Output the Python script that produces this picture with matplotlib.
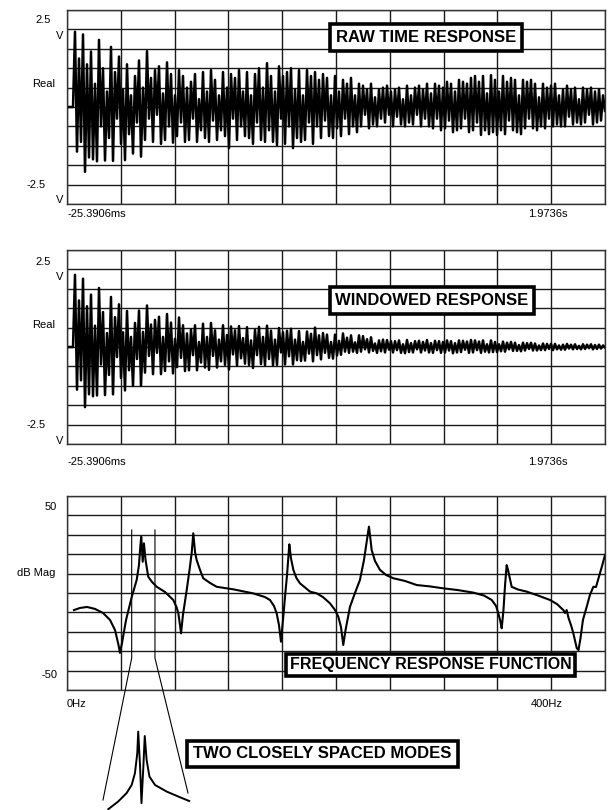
import numpy as np
import matplotlib
matplotlib.use("Agg")
import matplotlib.pyplot as plt
from matplotlib.lines import Line2D

plt.rcParams['font.family'] = ['Liberation Sans', 'DejaVu Sans']

W, H = 609, 810

t_start, t_end = -0.0253906, 1.9736

# raw time response, volts
raw_v = [0, 0, 0, 0,
         1.94, -1.15, 1.25, -0.9, 1.87, -1.67, 1.1, -1.3, 1.43, -1.35,
         0.6, -1.4, 1.73, -0.5, 1.0, -1.38, 0.4, -0.8, 1.55, -1.39,
         0.9, -0.3, 1.3, -0.95, 0.45, -1.37, 1.1, -0.7, 0.3, -1.2,
         0.8, -0.4, 1.2, -1.28, 0.5, -0.85, 1.44, -0.3, 0.75, -0.9,
         0.95, -0.2, 1.05, -0.95, 0.35, -0.85, 1.15, -0.5, 0.85, -0.92,
         0.3, -0.75, 0.95, -0.4, 0.8, -0.9, 0.5, -0.85, 0.65, -0.3,
         0.85, -0.9, 0.2, -0.6, 0.9, -0.8, 0.4, -0.9, 0.95, -0.35,
         0.7, -0.85, 0.3, -0.6, 0.9, -0.75, 0.5, -1.06, 0.85, -0.3,
         0.75, -0.85, 0.95, -0.5, 0.4, -0.75, 0.9, -0.8, 0.3, -0.95,
         0.85, -0.4, 1.0, -0.85, 0.5, -0.9, 1.13, -0.6, 0.8, -0.9,
         0.4, -0.98, 1.05, -0.3, 0.8, -0.95, 0.9, -0.5, 1.0, -1.06,
         0.45, -0.8, 0.95, -0.9, 0.3, -0.85, 0.95, -0.4, 0.8, -0.95,
         0.9, -0.5, 0.7, -0.8, 0.85, -0.35, 0.75, -0.75, 0.3, -0.8,
         0.8, -0.55, 0.4, -0.75, 0.7, -0.3, 0.6, -0.7, 0.75, -0.5,
         0.3, -0.65, 0.6, -0.5, 0.55, -0.2, 0.45, -0.55, 0.6, -0.45,
         0.25, -0.5, 0.45, -0.3, 0.5, -0.4, 0.55, -0.2, 0.4, -0.5,
         0.45, -0.25, 0.5, -0.45, 0.2, -0.5, 0.55, -0.4, 0.3, -0.45,
         0.5, -0.2, 0.55, -0.5, 0.45, -0.3, 0.6, -0.5, 0.35, -0.55,
         0.6, -0.3, 0.55, -0.6, 0.5, -0.55, 0.65, -0.35, 0.6, -0.65,
         0.4, -0.6, 0.7, -0.55, 0.65, -0.3, 0.6, -0.65, 0.75, -0.6,
         0.8, -0.4, 0.65, -0.72, 0.8, -0.6, 0.35, -0.7, 0.82, -0.65,
         0.7, -0.72, 0.4, -0.6, 0.8, -0.7, 0.65, -0.35, 0.75, -0.6,
         0.7, -0.65, 0.3, -0.7, 0.7, -0.55, 0.65, -0.3, 0.7, -0.55,
         0.6, -0.6, 0.25, -0.5, 0.6, -0.55, 0.5, -0.3, 0.55, -0.5,
         0.6, -0.45, 0.3, -0.5, 0.45, -0.5, 0.55, -0.25, 0.45, -0.45,
         0.5, -0.4, 0.2, -0.45, 0.5, -0.4, 0.45, -0.2, 0.5, -0.45,
         0.4, -0.4, 0.45, -0.35, 0.3, -0.1]

# windowed response, volts
win_v = [0, 0, 0, 0,
         1.86, -1.1, 1.2, -0.86, 1.76, -1.55, 1.05, -1.22, 1.35, -1.27,
         0.55, -1.25, 1.52, -0.45, 0.9, -1.24, 0.36, -0.72, 1.29, -1.22,
         0.77, -0.26, 1.1, -0.8, 0.38, -1.12, 0.93, -0.6, 0.26, -1.0,
         0.62, -0.31, 0.94, -1.0, 0.39, -0.66, 1.07, -0.23, 0.58, -0.7,
         0.7, -0.15, 0.78, -0.7, 0.26, -0.62, 0.85, -0.37, 0.63, -0.68,
         0.21, -0.52, 0.76, -0.28, 0.56, -0.62, 0.35, -0.6, 0.45, -0.21,
         0.56, -0.6, 0.13, -0.4, 0.6, -0.53, 0.26, -0.59, 0.62, -0.23,
         0.43, -0.53, 0.19, -0.37, 0.56, -0.46, 0.31, -0.58, 0.53, -0.19,
         0.43, -0.48, 0.54, -0.29, 0.23, -0.43, 0.51, -0.46, 0.17, -0.54,
         0.44, -0.21, 0.52, -0.44, 0.26, -0.47, 0.55, -0.31, 0.42, -0.47,
         0.19, -0.46, 0.49, -0.14, 0.38, -0.45, 0.42, -0.24, 0.47, -0.45,
         0.19, -0.34, 0.41, -0.36, 0.13, -0.35, 0.4, -0.17, 0.34, -0.37,
         0.5, -0.21, 0.3, -0.32, 0.36, -0.15, 0.32, -0.28, 0.13, -0.3,
         0.32, -0.22, 0.16, -0.2, 0.35, -0.12, 0.24, -0.15, 0.3, -0.12,
         0.12, -0.15, 0.3, -0.12, 0.28, -0.06, 0.2, -0.14, 0.25, -0.1,
         0.09, -0.15, 0.17, -0.11, 0.19, -0.14, 0.18, -0.07, 0.15, -0.14,
         0.15, -0.08, 0.17, -0.15, 0.07, -0.16, 0.18, -0.13, 0.1, -0.14,
         0.15, -0.06, 0.16, -0.14, 0.13, -0.09, 0.18, -0.14, 0.1, -0.15,
         0.16, -0.08, 0.15, -0.15, 0.13, -0.14, 0.17, -0.09, 0.15, -0.16,
         0.1, -0.14, 0.17, -0.13, 0.16, -0.07, 0.14, -0.15, 0.18, -0.14,
         0.17, -0.08, 0.14, -0.15, 0.17, -0.12, 0.07, -0.14, 0.17, -0.13,
         0.13, -0.13, 0.07, -0.11, 0.14, -0.12, 0.11, -0.06, 0.13, -0.1,
         0.11, -0.1, 0.05, -0.11, 0.11, -0.09, 0.1, -0.05, 0.11, -0.09,
         0.09, -0.09, 0.04, -0.08, 0.09, -0.08, 0.08, -0.05, 0.08, -0.08,
         0.08, -0.06, 0.04, -0.07, 0.06, -0.07, 0.08, -0.04, 0.06, -0.06,
         0.07, -0.05, 0.03, -0.06, 0.07, -0.05, 0.06, -0.03, 0.07, -0.06,
         0.05, -0.05, 0.06, -0.04, 0.04, -0.01]

# frequency response function
frf_hz = [5.2, 9.7, 14.9, 20.8, 26.8, 32.0, 35.7, 38.3, 39.4, 40.9, 43.9, 48.1,
          51.8, 53.5, 54.6, 55.2, 56.3, 57.2, 58.4, 60.4, 63.2, 66.7, 72.9, 79.0,
          81.4, 82.8, 84.0, 84.8, 86.2, 89.0, 91.1, 92.7, 93.9, 95.2, 96.4, 98.9,
          101.3, 106.3, 111.3, 123.6, 138.5, 147.2, 150.9, 153.9, 155.9, 157.6,
          159.1, 160.6, 162.1, 163.6, 164.7, 165.3, 166.5, 168.3, 170.6, 173.2,
          180.7, 185.7, 190.3, 195.5, 199.3, 201.7, 203.7, 205.4, 207.1, 210.4,
          214.1, 217.8, 220.8, 223.0, 224.5, 225.7, 226.5, 229.0, 232.7, 237.2,
          242.6, 251.3, 260.0, 269.9, 279.8, 290.7, 302.1, 310.0, 315.8, 319.0,
          320.7, 322.3, 323.2, 324.5, 325.7, 326.9, 327.9, 330.6, 335.3, 341.8,
          350.2, 359.1, 364.3, 369.0, 370.3, 371.5, 372.9, 374.7, 376.4, 379.0,
          380.3, 381.8, 383.6, 386.4, 388.8, 391.3, 393.3, 394.8, 397.8, 400.0]
frf_db = [-8.8, -7.7, -7.2, -8.2, -10.3, -13.9, -19.1, -26.8, -30.9, -25.8, -13.9, -2.1,
          6.7, 14.4, 24.7, 29.0, 16.1, 25.6, 17.0, 8.4, 5.7, 3.2, 0.5, -3.6,
          -7.2, -10.5, -16.5, -20.8, -11.3, 1.5, 11.9, 20.6, 30.8, 21.1, 17.0, 11.9,
          7.6, 5.2, 3.2, 1.9, -0.2, -2.1, -3.6, -6.7, -10.5, -16.5,
          -25.1, -13.9, -1.9, 9.3, 19.6, 25.1, 18.0, 11.9, 7.7, 5.0,
          0.7, -0.2, -2.1, -5.3, -8.8, -12.2, -17.5, -26.8, -19.1, -7.1,
          0.0, 6.7, 17.0, 27.3, 34.2, 27.3, 22.2, 16.5, 11.9, 9.3,
          7.6, 6.2, 4.1, 3.4, 2.4, 1.5, 0.2, -1.3, -3.6, -6.7,
          -10.5, -14.9, -18.2, -8.8, 4.1, 14.4, 11.9, 3.2, 1.8, 0.7,
          -1.3, -3.6, -5.7, -8.8, -10.3, -8.8, -12.9, -16.5, -20.6, -28.4,
          -29.4, -23.2, -13.9, -7.1, -1.0, 3.2, 3.1, 6.7, 13.9, 19.6]

# zoomed view of the two close modes (48-65 Hz)
zoom_hz = [48.1, 50.2, 52.0, 53.1, 53.8, 54.3, 54.5, 54.9, 55.2, 55.6, 55.9,
           56.3, 56.9, 58.1, 60.6, 63.4, 65.4]
zoom_db = [0.4, 4.2, 8.4, 12.5, 18.4, 28.4, 39.2, 21.7, 3.4, 21.7, 37.0,
           25.0, 16.7, 12.5, 9.2, 6.4, 4.5]
band_hz = [48.1, 65.4]


def fx(x):
    return x / W


def fy(y):
    return 1 - y / H


def panel(top, bottom):
    return fig.add_axes([fx(67), fy(bottom), fx(605) - fx(67), fy(top) - fy(bottom)])


def grid_it(ax, x0, x1, y0, y1):
    ax.set_xlim(x0, x1)
    ax.set_ylim(y0, y1)
    ax.set_xticks(np.linspace(x0, x1, 11))
    ax.set_yticks(np.linspace(y0, y1, 11))
    ax.grid(True, color='#1a1a1a', lw=1.0)
    ax.tick_params(length=0, labelleft=False, labelbottom=False)
    for s in ax.spines.values():
        s.set_color('#333333')
        s.set_linewidth(1.0)


def label(x, y, s, ha='right', size=8):
    fig.text(fx(x), fy(y), s, ha=ha, va='center', fontsize=size)


def boxed(x, y, s, size=12, pad=0.35):
    fig.text(fx(x), fy(y), s, ha='center', va='center', fontsize=size, fontweight='bold',
             bbox=dict(boxstyle='square,pad=%s' % pad, fc='white', ec='black', lw=2.6),
             zorder=10)


fig = plt.figure(figsize=(W / 100, H / 100), dpi=100)

# raw time response
ax1 = panel(10, 204)
t = np.linspace(t_start, t_end, len(raw_v))
ax1.plot(t, raw_v, color='black', lw=1.8)
grid_it(ax1, t_start, t_end, -2.5, 2.5)
label(51, 20, '2.5')
label(63, 36, 'V')
label(55, 84, 'Real')
label(46, 185, '-2.5')
label(63, 200, 'V')
label(67, 214, '-25.3906ms', ha='left')
label(568, 214, '1.9736s')
boxed(426, 37.5, 'RAW TIME RESPONSE')

# windowed response
ax2 = panel(250, 444)
t = np.linspace(t_start, t_end, len(win_v))
ax2.plot(t, win_v, color='black', lw=1.8)
grid_it(ax2, t_start, t_end, -2.5, 2.5)
label(51, 262, '2.5')
label(63, 277, 'V')
label(55, 325, 'Real')
label(46, 425, '-2.5')
label(63, 441, 'V')
label(67, 462, '-25.3906ms', ha='left')
label(568, 462, '1.9736s')
boxed(432, 300.5, 'WINDOWED RESPONSE')

# frequency response function
ax3 = panel(496, 690)
ax3.plot(frf_hz, frf_db, color='black', lw=1.5)
grid_it(ax3, 0, 400, -50, 50)
label(57, 507, '50')
label(55, 573, 'dB Mag')
label(57, 675, '-50')
label(67, 704, '0Hz', ha='left')
label(563, 704, '400Hz')
boxed(430.5, 665, 'FREQUENCY RESPONSE FUNCTION', size=11.5, pad=0.2)

# markers for the zoomed band and the lines down to the inset
px_per_hz = (605 - 67) / 400
for hz, end in zip(band_hz, [(103, 800), (188, 793)]):
    xb = 67 + hz * px_per_hz
    fig.add_artist(Line2D([fx(xb), fx(xb), fx(end[0])], [fy(530), fy(658), fy(end[1])],
                          transform=fig.transFigure, color='black', lw=0.8))

axz = fig.add_axes([fx(105), fy(810), fx(192) - fx(105), fy(728) - fy(810)])
axz.plot(zoom_hz, zoom_db, color='black', lw=1.4)
axz.set_xlim(47.4, 66.0)
axz.set_ylim(0, 41)
axz.axis('off')
boxed(322.5, 754, 'TWO CLOSELY SPACED MODES')

plt.savefig('out.png', dpi=100)
